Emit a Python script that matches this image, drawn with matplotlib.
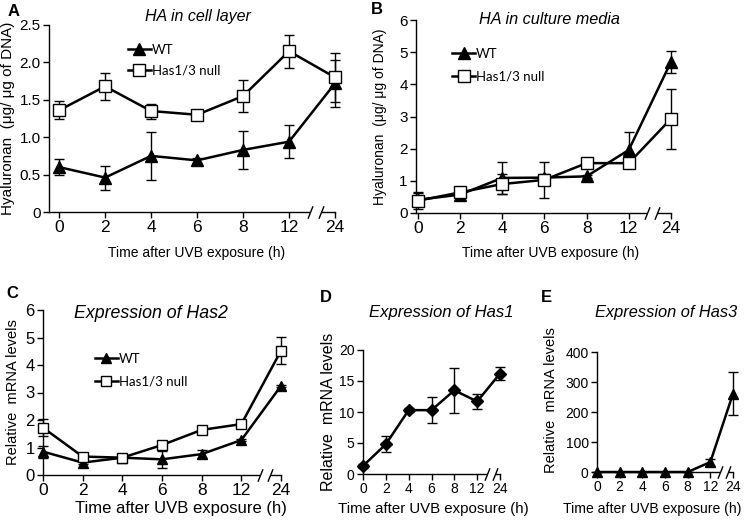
import matplotlib
matplotlib.use("Agg")
import matplotlib.pyplot as plt

plt.rcParams['font.family'] = ['Liberation Sans', 'DejaVu Sans']

W, H = 745, 520

time_labels = ['0', '2', '4', '6', '8', '12', '24']

# A - HA in cell layer
a_wt = [0.60, 0.46, 0.75, 0.69, 0.83, 0.94, 1.72]
a_wt_err = [0.11, 0.16, 0.32, 0.03, 0.25, 0.22, 0.31]
a_null = [1.36, 1.68, 1.35, 1.30, 1.55, 2.15, 1.80]
a_null_err = [0.12, 0.18, 0.10, 0.02, 0.21, 0.22, 0.33]
a_yticks = [0, 0.5, 1.0, 1.5, 2.0, 2.5]
a_ylabels = ['0', '0.5', '1.0', '1.5', '2.0', '2.5']

# B - HA in culture media
b_wt = [0.41, 0.57, 1.09, 1.10, 1.14, 1.96, 4.70]
b_wt_err = [0.20, 0.12, 0.50, 0.10, 0.05, 0.57, 0.35]
b_null = [0.38, 0.64, 0.90, 1.03, 1.55, 1.55, 2.93]
b_null_err = [0.26, 0.14, 0.30, 0.55, 0.05, 0.05, 0.93]
b_yticks = [0, 1, 2, 3, 4, 5, 6]

# C - Has2 expression
c_wt = [0.85, 0.45, 0.63, 0.57, 0.76, 1.27, 3.24]
c_wt_err = [0.22, 0.05, 0.08, 0.30, 0.15, 0.03, 0.05]
c_null = [1.72, 0.67, 0.63, 1.09, 1.64, 1.85, 4.52]
c_null_err = [0.30, 0.05, 0.12, 0.05, 0.15, 0.05, 0.50]
c_yticks = [0, 1, 2, 3, 4, 5, 6]

# D - Has1 expression
d_val = [1.3, 4.8, 10.3, 10.3, 13.5, 11.7, 16.2]
d_err = [0.3, 1.3, 0.3, 2.1, 3.6, 1.2, 1.0]
d_yticks = [0, 5, 10, 15, 20]

# E - Has3 expression
e_val = [0, 0, 0, 0, 0, 33, 261]
e_err = [0, 0, 0, 0, 0, 12, 72]
e_yticks = [0, 100, 200, 300, 400]

xpos = list(range(len(time_labels)))
XLAB = 'Time after UVB exposure (h)'
HA_LAB = 'Hyaluronan  (\u03bcg/ \u03bcg of DNA)'
MRNA_LAB = 'Relative  mRNA levels'


def px_axes(fig, left, top, right, bottom):
    return fig.add_axes([left / W, 1 - bottom / H, (right - left) / W, (bottom - top) / H])


def px_text(fig, x, y, s, size, **kw):
    # place a text by its pixel centre (from top-left)
    fig.text(x / W, 1 - y / H, s, fontsize=size, ha='center', va='center', **kw)


def style_axes(ax, xmin, ymax, yticks, ylabels, xsize, ysize):
    ax.set_xlim(xmin, 6)
    ax.set_ylim(0, ymax)
    for s in ['top', 'right']:
        ax.spines[s].set_visible(False)
    for s in ['left', 'bottom']:
        ax.spines[s].set_linewidth(1.0)
    ax.set_xticks(xpos)
    ax.set_xticklabels(time_labels, fontsize=xsize)
    ax.set_yticks(yticks)
    ax.set_yticklabels(ylabels, fontsize=ysize)
    ax.tick_params(direction='out', length=4, width=1, pad=2)


def draw_break(ax, x, d=0.12):
    tr = ax.get_xaxis_transform()
    ax.plot([x - d, x + d], [0, 0], color='white', lw=3, transform=tr,
            clip_on=False, zorder=5, solid_capstyle='butt')
    ax.plot([x - d, x + d], [0, 0], ls='none', marker=[(-0.4, -1), (0.4, 1)],
            ms=9, mec='black', mew=1.0, transform=tr, clip_on=False, zorder=6)


def series(ax, y, err, marker, face, ms, label=None):
    eb = ax.errorbar(xpos, y, yerr=err, fmt='none', ecolor='black', elinewidth=1,
                     capsize=3.5, capthick=1, zorder=3)
    for art in eb.lines[1] + eb.lines[2]:
        art.set_clip_on(False)
    ax.plot(xpos, y, color='black', lw=1.8, marker=marker, mfc=face,
            mec='black', mew=1.0, ms=ms, zorder=4, clip_on=False, label=label)


def add_legend(ax, anchor, spacing):
    ax.legend(loc='upper left', bbox_to_anchor=anchor, frameon=False,
              prop={'family': ['Lato', 'DejaVu Sans'], 'size': 9.5},
              handlelength=1.75, handletextpad=0.05, borderpad=0,
              labelspacing=spacing, borderaxespad=0)


fig = plt.figure(figsize=(W / 100, H / 100), dpi=100)

# ---- A
ax = px_axes(fig, 49, 25, 335, 212)
series(ax, a_wt, a_wt_err, '^', 'black', 8, 'WT')
series(ax, a_null, a_null_err, 's', 'white', 8, 'Has1/3 null')
style_axes(ax, -0.22, 2.5, a_yticks, a_ylabels, 12.5, 11)
draw_break(ax, 5.57)
ax.set_ylabel(HA_LAB, fontsize=11, labelpad=3)
add_legend(ax, (0.276, 0.90), 0.67)
px_text(fig, 198, 16, 'HA in cell layer', 11.5, style='italic')
px_text(fig, 197, 253, XLAB, 10)
fig.text(8 / W, 1 - 12 / H, 'A', fontsize=12, weight='bold', va='center')

# ---- B
ax = px_axes(fig, 416, 20, 671, 213)
series(ax, b_wt, b_wt_err, '^', 'black', 8, 'WT')
series(ax, b_null, b_null_err, 's', 'white', 8, 'Has1/3 null')
style_axes(ax, -0.04, 6, b_yticks, [str(v) for v in b_yticks], 12.5, 11)
draw_break(ax, 5.55)
ax.set_ylabel(HA_LAB, fontsize=10, labelpad=9)
add_legend(ax, (0.141, 0.855), 0.82)
px_text(fig, 549, 19, 'HA in culture media', 11.7, style='italic')
px_text(fig, 551, 253, XLAB, 10)
fig.text(371 / W, 1 - 10 / H, 'B', fontsize=12, weight='bold', va='center')

# ---- C
ax = px_axes(fig, 43, 310, 281, 475)
series(ax, c_wt, c_wt_err, '^', 'black', 7.5, 'WT')
series(ax, c_null, c_null_err, 's', 'white', 7.5, 'Has1/3 null')
style_axes(ax, 0, 6, c_yticks, [str(v) for v in c_yticks], 12.5, 12)
draw_break(ax, 5.6)
ax.set_ylabel(MRNA_LAB, fontsize=10.5, labelpad=4)
add_legend(ax, (0.218, 0.742), 0.82)
px_text(fig, 151, 313, 'Expression of Has2', 12.8, style='italic')
px_text(fig, 181, 508, XLAB, 12)
fig.text(6 / W, 1 - 293 / H, 'C', fontsize=12, weight='bold', va='center')

# ---- D
ax = px_axes(fig, 363, 350, 500, 474)
series(ax, d_val, d_err, 'D', 'black', 6.5)
style_axes(ax, 0, 20, d_yticks, [str(v) for v in d_yticks], 10, 10)
draw_break(ax, 5.6, d=0.18)
ax.set_ylabel(MRNA_LAB, fontsize=11.5, labelpad=2)
px_text(fig, 441, 313, 'Expression of Has1', 12, style='italic')
px_text(fig, 433, 509, XLAB, 10.8)
fig.text(320 / W, 1 - 298 / H, 'D', fontsize=12, weight='bold', va='center')

# ---- E
ax = px_axes(fig, 597, 352, 733, 472)
series(ax, e_val, e_err, '^', 'black', 7)
style_axes(ax, 0, 400, e_yticks, [str(v) for v in e_yticks], 10, 10)
draw_break(ax, 5.6, d=0.18)
ax.set_ylabel(MRNA_LAB, fontsize=10.5, labelpad=3)
ax.yaxis.set_label_coords(-0.29, 0.6)
px_text(fig, 666, 313, 'Expression of Has3', 11.8, style='italic')
px_text(fig, 652, 509, XLAB, 10.1)
fig.text(541 / W, 1 - 298 / H, 'E', fontsize=12, weight='bold', va='center')

fig.savefig('out.png', dpi=100)
